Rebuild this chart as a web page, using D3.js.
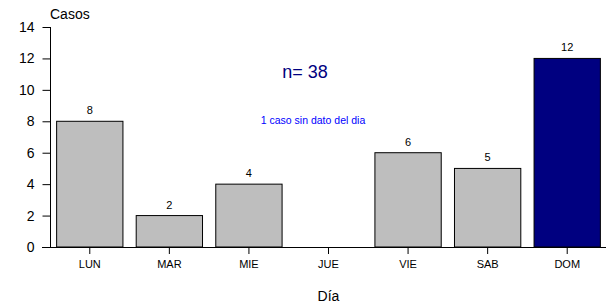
<!DOCTYPE html>
<html>
<head>
<meta charset="utf-8">
<script src="https://cdn.jsdelivr.net/npm/d3@7/dist/d3.min.js"></script>
<style>
  body { margin: 0; background: #fff; }
  svg { display: block; font-family: "Liberation Sans", Arial, sans-serif; }
</style>
</head>
<body>
<svg id="chart" width="606" height="305"></svg>
<script>
  // datos
  var dias = ['LUN', 'MAR', 'MIE', 'JUE', 'VIE', 'SAB', 'DOM']
  var casos = [8, 2, 4, 0, 6, 5, 12]
  var yTicks = [0, 2, 4, 6, 8, 10, 12, 14]
  var totalLabel = 'n= 38'
  var notaLabel = '1 caso sin dato del dia'

  var width = 606, height = 305
  var plot = {left: 50, right: 607, top: 27, bottom: 247}

  var svg = d3.select('#chart')

  var x = d3.scaleBand()
    .domain(dias)
    .range([plot.left, plot.right])
    .paddingInner(1 / 6)
    .paddingOuter(1 / 12)

  var y = d3.scaleLinear()
    .domain([0, 14])
    .range([plot.bottom, plot.top])

  // barras
  svg.selectAll('rect.bar')
    .data(casos)
    .enter()
    .filter(function(d) { return d > 0 })
    .append('rect')
    .attr('class', 'bar')
    .attr('x', function(d, i) { return x(dias[casos.indexOf(d)]) })
    .attr('y', function(d) { return y(d) })
    .attr('width', x.bandwidth())
    .attr('height', function(d) { return y(0) - y(d) })
    .style('fill', function(d) { return d === d3.max(casos) ? '#000080' : '#bebebe' })
    .style('stroke', '#000')
    .style('stroke-width', 1)

  // etiquetas de valor
  svg.selectAll('text.val')
    .data(casos)
    .enter()
    .filter(function(d) { return d > 0 })
    .append('text')
    .attr('class', 'val')
    .attr('x', function(d) { return x(dias[casos.indexOf(d)]) + x.bandwidth() / 2 })
    .attr('y', function(d) { return y(d) - 7 })
    .attr('text-anchor', 'middle')
    .style('font-size', '11px')
    .text(function(d) { return d })

  // linea base
  svg.append('line')
    .attr('x1', 42).attr('x2', width)
    .attr('y1', y(0) + 0.5).attr('y2', y(0) + 0.5)
    .style('stroke', '#000')

  // eje y
  var yAxis = d3.axisLeft(y).tickValues(yTicks).tickSize(8).tickPadding(8)
  var gy = svg.append('g')
    .attr('transform', 'translate(' + (plot.left + 0.5) + ',0)')
    .call(yAxis)
  gy.select('.domain').attr('d', 'M0,' + y(14) + 'V' + y(0))
  gy.selectAll('text').style('font-size', '14px').style('font-family', 'inherit').attr('fill', '#000')
  gy.selectAll('line').attr('stroke', '#000')
  gy.select('.domain').attr('stroke', '#000')

  // eje x
  var xAxis = d3.axisBottom(x).tickSize(7).tickPadding(6)
  var gx = svg.append('g')
    .attr('transform', 'translate(0,' + y(0) + ')')
    .call(xAxis)
  gx.select('.domain').remove()
  gx.selectAll('text').style('font-size', '11px').style('font-family', 'inherit').attr('fill', '#000')
  gx.selectAll('line').attr('stroke', '#000')

  // titulos
  svg.append('text')
    .attr('x', 50).attr('y', 19)
    .style('font-size', '14px')
    .text('Casos')

  svg.append('text')
    .attr('x', (plot.left + plot.right) / 2).attr('y', 301)
    .attr('text-anchor', 'middle')
    .style('font-size', '14px')
    .text('Día')

  svg.append('text')
    .attr('x', 305).attr('y', 78)
    .attr('text-anchor', 'middle')
    .style('font-size', '18px')
    .style('fill', '#000080')
    .text(totalLabel)

  svg.append('text')
    .attr('x', 313).attr('y', 124)
    .attr('text-anchor', 'middle')
    .style('font-size', '10.5px')
    .style('fill', '#0000ff')
    .text(notaLabel)
</script>
</body>
</html>
